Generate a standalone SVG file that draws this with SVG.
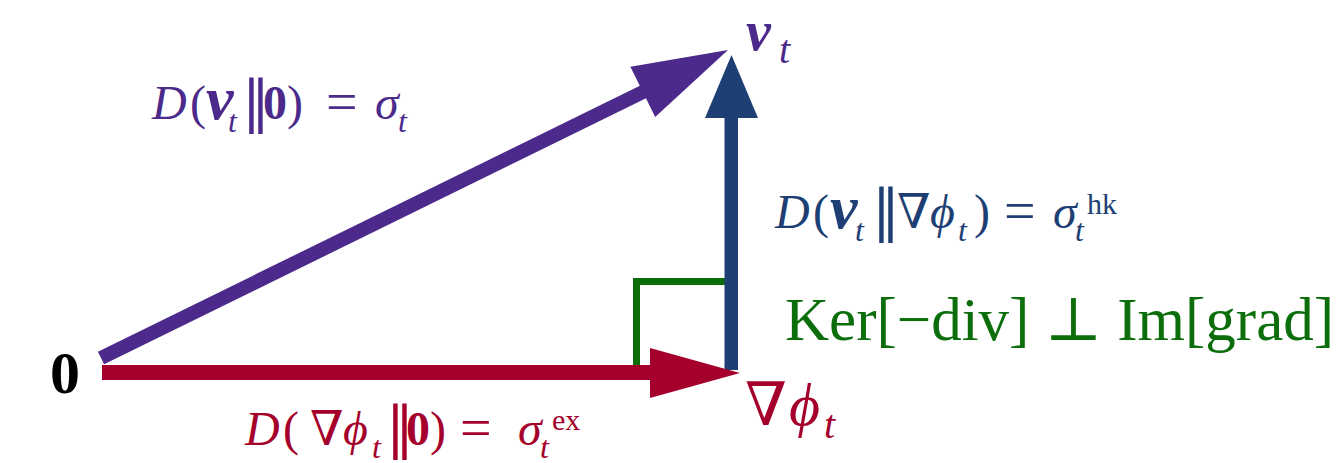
<svg xmlns="http://www.w3.org/2000/svg" width="1338" height="463" viewBox="0 0 1338 463">
<style>
.t{font-family:"Liberation Serif","DejaVu Serif",serif}
.i{font-style:italic}
.b{font-weight:bold}
.nu{font-size:62px;font-style:italic;font-weight:bold}
.s{font-size:32px;font-style:italic}
.sp{font-size:30px}
.eq{font-size:56px}
.nm{font-size:56px;font-family:"DejaVu Serif",serif}
.pu{fill:#4B2A8B}
.bl{fill:#1E3F74}
.rd{fill:#A5002B}
.gr{fill:#0B6E0B}
</style>
<rect width="1338" height="463" fill="#ffffff"/>
<g id="connectors">
  <g id="arrow-nu">
    <line x1="101" y1="358" x2="645" y2="91" stroke="#4B2A8B" stroke-width="14"/>
    <polygon points="728,50 655.2,117 630.4,66.8" fill="#4B2A8B"/>
  </g>
  <g id="right-angle">
    <polyline points="636.5,366 636.5,281.5 726,281.5" fill="none" stroke="#0B6E0B" stroke-width="7"/>
  </g>
  <g id="arrow-hk">
    <rect x="724.5" y="114" width="13.5" height="256" fill="#1E3F74"/>
    <polygon points="705,118 731.5,55 758,118" fill="#1E3F74"/>
  </g>
  <g id="arrow-ex">
    <rect x="102" y="365" width="552" height="15" fill="#A5002B"/>
    <polygon points="650,348 740,373 650,398" fill="#A5002B"/>
  </g>
</g>
<g id="node-origin">
  <text class="t b" x="50" y="393" font-size="60" fill="#000">0</text>
</g>
<g id="node-nu">
  <text class="t pu" font-size="56"><tspan class="i b" x="746" y="50">ν</tspan><tspan class="i" font-size="40" x="779" y="63">t</tspan></text>
</g>
<g id="node-grad">
  <text class="t rd" font-size="60"><tspan x="745" y="425">∇</tspan><tspan class="i" x="789" y="425">ϕ</tspan><tspan class="i" font-size="40" x="824" y="438">t</tspan></text>
</g>
<g id="label-nu">
  <text class="t pu" font-size="48"><tspan class="i" x="152" y="119">D</tspan><tspan x="190" y="119">(</tspan><tspan class="nu" x="206" y="119">ν</tspan><tspan class="s" x="228" y="132">t</tspan><tspan class="nm" x="242" y="121">‖</tspan><tspan class="b" x="263" y="119">0</tspan><tspan x="287" y="119">)</tspan><tspan class="eq" x="326" y="121">=</tspan><tspan class="i" x="375" y="119">σ</tspan><tspan class="s" x="398" y="132">t</tspan></text>
</g>
<g id="label-hk">
  <text class="t bl" font-size="48"><tspan class="i" x="775" y="228">D</tspan><tspan x="813" y="228">(</tspan><tspan class="nu" x="830" y="228">ν</tspan><tspan class="s" x="855" y="241">t</tspan><tspan class="nm" x="872" y="230">‖</tspan><tspan x="897" y="228">∇</tspan><tspan class="i" x="930" y="228">ϕ</tspan><tspan class="s" x="958" y="241">t</tspan><tspan x="974" y="228">)</tspan><tspan class="eq" x="1004" y="230">=</tspan><tspan class="i" x="1053" y="228">σ</tspan><tspan class="s" x="1075" y="241">t</tspan><tspan class="sp" x="1087" y="214">hk</tspan></text>
</g>
<g id="label-ex">
  <text class="t rd" font-size="48"><tspan class="i" x="245" y="445">D</tspan><tspan x="283" y="445">(</tspan><tspan x="310" y="445">∇</tspan><tspan class="i" x="343" y="445">ϕ</tspan><tspan class="s" x="372" y="458">t</tspan><tspan class="nm" x="386" y="447">‖</tspan><tspan class="b" x="406" y="445">0</tspan><tspan x="430" y="445">)</tspan><tspan class="eq" x="460" y="447">=</tspan><tspan class="i" x="518" y="445">σ</tspan><tspan class="s" x="540" y="458">t</tspan><tspan class="sp" x="552" y="430">ex</tspan></text>
</g>
<g id="label-orth">
  <text class="t gr" x="785" y="340" font-size="61">Ker[−div] ⊥ Im[grad]</text>
</g>
</svg>
